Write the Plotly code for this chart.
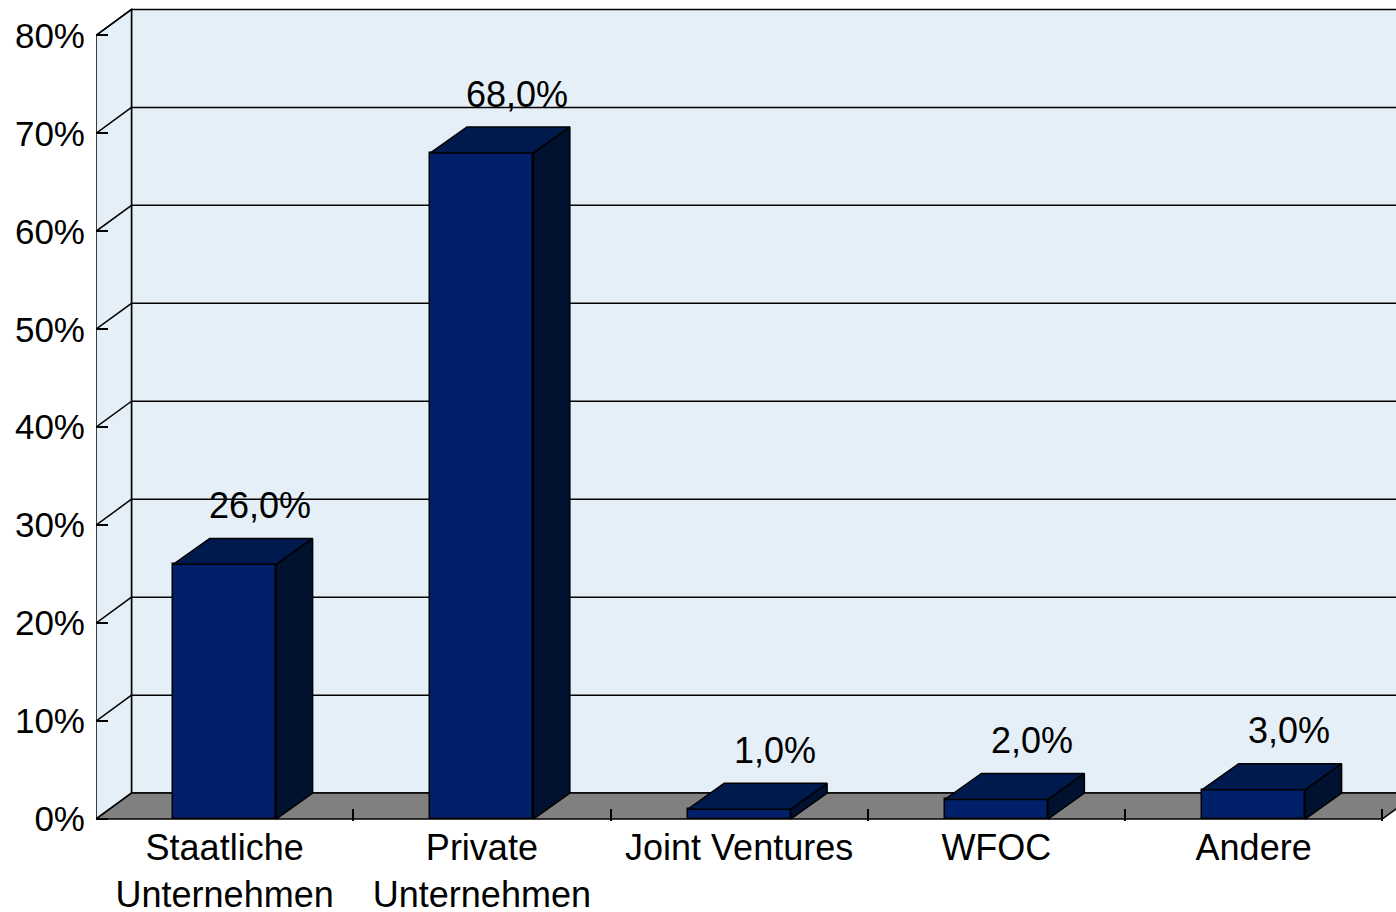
import plotly.graph_objects as go

# ---------------- data ----------------
categories = ["Staatliche<br>Unternehmen", "Private<br>Unternehmen", "Joint Ventures", "WFOC", "Andere"]
values = [26.0, 68.0, 1.0, 2.0, 3.0]
y_tick_values = [0, 10, 20, 30, 40, 50, 60, 70, 80]

# ---------------- style ----------------
FONT = "Liberation Sans, Arial, sans-serif"
FRONT = "#00206A"
TOP = "#001A4D"
SIDE = "#001230"
WALL = "#E5EFF7"
FLOOR = "#808080"
LINE = "black"
LW = 1.5

DX, DY = 0.138, 2.65         # 3-D depth offsets (category units, percent units)
BAR_DX = 0.142
BAR_W = 0.40
N = len(categories)
X_MIN = -0.5
X_MAX = -0.5 + 1300 / 257.25
Y_MIN, Y_MAX = -0.2, 83.0
Y_TOP = y_tick_values[-1]
LABEL_OFFSET = 6.0

xs = list(range(N))
labels = [f"{v:.1f}".replace(".", ",") + "%" for v in values]

fig = go.Figure()

# bar front faces
fig.add_trace(go.Bar(
    x=xs, y=values, width=BAR_W,
    marker=dict(color=FRONT, line=dict(color=LINE, width=LW)),
    hoverinfo="skip",
))

# bar side and top faces (derived from values)
for x, v in zip(xs, values):
    x0, x1 = x - BAR_W / 2, x + BAR_W / 2
    fig.add_trace(go.Scatter(
        x=[x1, x1, x1 + BAR_DX, x1 + BAR_DX, x1],
        y=[0, v, v + DY, DY, 0],
        mode="lines", fill="toself", fillcolor=SIDE,
        line=dict(color=LINE, width=LW), hoverinfo="skip",
    ))
    fig.add_trace(go.Scatter(
        x=[x0, x1, x1 + BAR_DX, x0 + BAR_DX, x0],
        y=[v, v, v + DY, v + DY, v],
        mode="lines", fill="toself", fillcolor=TOP,
        line=dict(color=LINE, width=LW), hoverinfo="skip",
    ))

# walls / floor / gridlines as shapes
shapes = []
xl, xr = -0.5, N - 0.5
shapes.append(dict(type="rect", xref="x", yref="y", layer="between",
                   x0=xl + DX, x1=xr + DX, y0=DY, y1=Y_TOP + DY,
                   fillcolor=WALL, line=dict(color=LINE, width=LW)))
for v in y_tick_values[1:-1]:
    shapes.append(dict(type="line", xref="x", yref="y", layer="between",
                       x0=xl + DX, x1=xr + DX, y0=v + DY, y1=v + DY,
                       line=dict(color=LINE, width=LW)))
shapes.append(dict(type="path", xref="x", yref="y", layer="between",
                   path=f"M {xl},0 L {xl},{Y_TOP} L {xl + DX},{Y_TOP + DY} L {xl + DX},{DY} Z",
                   fillcolor=WALL, line=dict(color=LINE, width=LW)))
for v in y_tick_values[1:]:
    shapes.append(dict(type="line", xref="x", yref="y", layer="between",
                       x0=xl, x1=xl + DX, y0=v, y1=v + DY,
                       line=dict(color=LINE, width=LW)))
shapes.append(dict(type="path", xref="x", yref="y", layer="between",
                   path=f"M {xl},0 L {xr},0 L {xr + DX},{DY} L {xl + DX},{DY} Z",
                   fillcolor=FLOOR, line=dict(color=LINE, width=LW)))

annotations = [
    dict(x=x + DX, y=v + LABEL_OFFSET, xref="x", yref="y", text=t,
         showarrow=False, xanchor="center", yanchor="middle",
         font=dict(family=FONT, size=36, color="black"))
    for x, v, t in zip(xs, values, labels)
]

fig.update_layout(
    width=1396, height=912,
    margin=dict(l=96, r=0, t=6, b=91),
    paper_bgcolor="white", plot_bgcolor="white",
    showlegend=False, bargap=0,
    shapes=shapes, annotations=annotations,
    font=dict(family=FONT, color="black"),
    xaxis=dict(
        range=[X_MIN, X_MAX], tickmode="array", tickvals=xs, ticktext=categories,
        ticks="", showgrid=False, zeroline=False, showline=False, automargin=False,
        ticklabelstandoff=2,
        tickfont=dict(family=FONT, size=36, color="black"),
        minor=dict(tickmode="array", tickvals=[x + 0.5 for x in xs], ticks="inside",
                   ticklen=12, tickwidth=LW, tickcolor=LINE, showgrid=False),
    ),
    yaxis=dict(
        range=[Y_MIN, Y_MAX], tickmode="array", tickvals=y_tick_values,
        ticktext=[f"{v}%" for v in y_tick_values],
        ticks="inside", ticklen=12, tickwidth=LW, tickcolor=LINE,
        showgrid=False, zeroline=False, showline=False, automargin=False,
        ticklabelstandoff=10,
        tickfont=dict(family=FONT, size=35, color="black"),
    ),
)

fig.write_html(
    "out.html",
    config={"displayModeBar": False},
    post_script="document.body.style.margin='0';document.body.style.overflow='hidden';",
)
